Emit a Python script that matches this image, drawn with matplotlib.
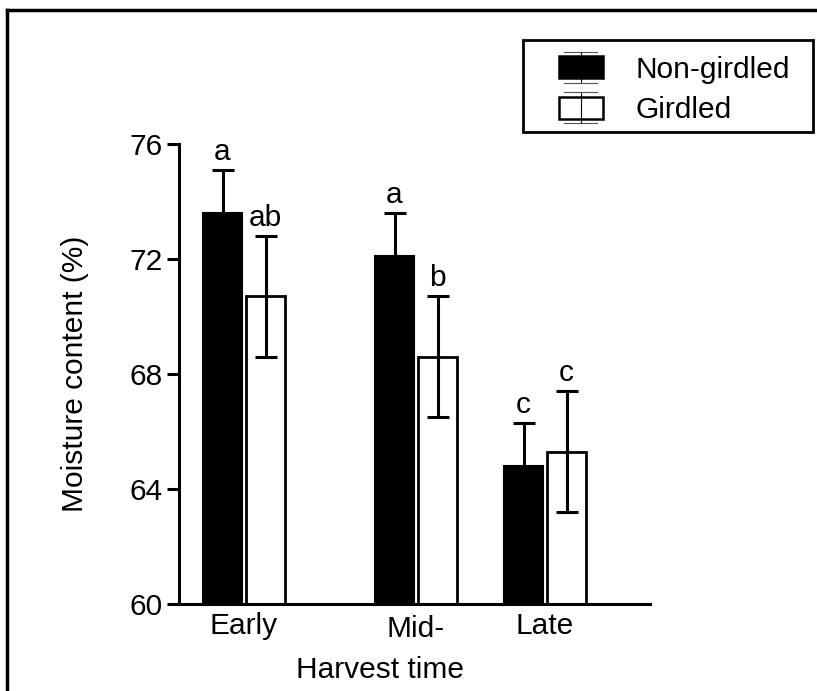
import numpy as np
import matplotlib
matplotlib.use('Agg')
import matplotlib.pyplot as plt
import matplotlib.transforms as mtransforms
from matplotlib.patches import Patch, Rectangle
from matplotlib.lines import Line2D
from matplotlib.legend_handler import HandlerBase

plt.rcParams['font.family'] = ['Liberation Sans', 'DejaVu Sans']

# data
groups = ['Early', 'Mid-', 'Late']
group_pos = np.array([0.0, 2.0, 3.5])
nongirdled = [73.6, 72.1, 64.8]
nongirdled_err = [1.5, 1.5, 1.5]
girdled = [70.7, 68.6, 65.3]
girdled_err = [2.1, 2.1, 2.1]
letters_ng = ['a', 'a', 'c']
letters_g = ['ab', 'b', 'c']

FS = 21.5


class BarErrHandler(HandlerBase):
    # box with a small error bar through it, like the GraphPad legend
    def create_artists(self, legend, orig_handle, xdescent, ydescent,
                       width, height, fontsize, trans):
        x0, y0 = -xdescent, -ydescent
        rect = Rectangle((x0, y0), width, height,
                         facecolor=orig_handle.get_facecolor(),
                         edgecolor='black', lw=1.8, transform=trans)
        cx = x0 + width / 2
        ext = height * 0.22
        lo, hi = y0 - ext, y0 + height + ext
        cw = width * 0.375
        vline = Line2D([cx, cx], [lo, hi], color='black', lw=0.8, transform=trans)
        caps = Line2D([cx - cw, cx + cw, np.nan, cx - cw, cx + cw],
                      [lo, lo, np.nan, hi, hi], color='#555555', lw=0.8,
                      transform=trans)
        return [rect, vline, caps]


fig = plt.figure(figsize=(8.17, 6.91), dpi=100)
ax = fig.add_axes([0.2191, 0.1259, 0.5765, 0.6657])

w = 0.46
ekw = dict(elinewidth=2.2, capthick=2.2, ecolor='black')
ax.bar(group_pos - 0.25, nongirdled, w, color='black', edgecolor='black',
       lw=1.5, yerr=nongirdled_err, capsize=8, error_kw=ekw)
ax.bar(group_pos + 0.25, girdled, w, color='white', edgecolor='black',
       lw=2.0, yerr=girdled_err, capsize=8, error_kw=ekw)

for x, v, e, t in zip(group_pos - 0.25, nongirdled, nongirdled_err, letters_ng):
    ax.annotate(t, (x, v + e), xytext=(0, 3), textcoords='offset points',
                ha='center', va='bottom', fontsize=FS)
for x, v, e, t in zip(group_pos + 0.25, girdled, girdled_err, letters_g):
    ax.annotate(t, (x, v + e), xytext=(0, 3), textcoords='offset points',
                ha='center', va='bottom', fontsize=FS)

ax.set_ylim(60, 76)
ax.set_xlim(-0.756, 4.72)
ax.set_yticks([60, 64, 68, 72, 76])
ax.set_xticks(group_pos)
ax.set_xticklabels(groups)
ax.tick_params(axis='y', length=9, width=2.2, labelsize=FS, pad=3)
ax.tick_params(axis='x', length=0, labelsize=FS, pad=6)
for s in ['top', 'right']:
    ax.spines[s].set_visible(False)
for s in ['left', 'bottom']:
    ax.spines[s].set_linewidth(2.2)
# "Mid-" sits a little lower in the original
mid = ax.get_xticklabels()[1]
mid.set_transform(mid.get_transform() +
                  mtransforms.ScaledTranslation(0, -0.03, fig.dpi_scale_trans))

ax.set_ylabel('Moisture content (%)', fontsize=FS, labelpad=29)
ax.set_xlabel('Harvest time', fontsize=FS)
ax.xaxis.set_label_coords((380 - 179) / 471, -0.113)

leg = fig.legend(handles=[Patch(facecolor='black'), Patch(facecolor='white')],
                 labels=['Non-girdled', 'Girdled'],
                 handler_map={Patch: BarErrHandler()},
                 loc='center left', bbox_to_anchor=(559 / 817, 1 - 90 / 691),
                 fontsize=FS, frameon=False,
                 handlelength=1.47, handleheight=0.74, handletextpad=1.1,
                 labelspacing=0.42, borderpad=0, borderaxespad=0)
# legend box as in the original (wider than the entries)
fig.add_artist(Rectangle((523 / 817, 1 - 132 / 691), 290 / 817, 92 / 691,
                         transform=fig.transFigure, fill=False,
                         edgecolor='black', lw=2.0))

# frame of the original panel (only top and left survive the crop)
fig.add_artist(Line2D([7 / 817, 1], [1 - 10 / 691, 1 - 10 / 691],
                      transform=fig.transFigure, color='black', lw=2.5))
fig.add_artist(Line2D([7 / 817, 7 / 817], [0, 1 - 10 / 691],
                      transform=fig.transFigure, color='black', lw=2.5))

fig.savefig('out.png', dpi=100)
